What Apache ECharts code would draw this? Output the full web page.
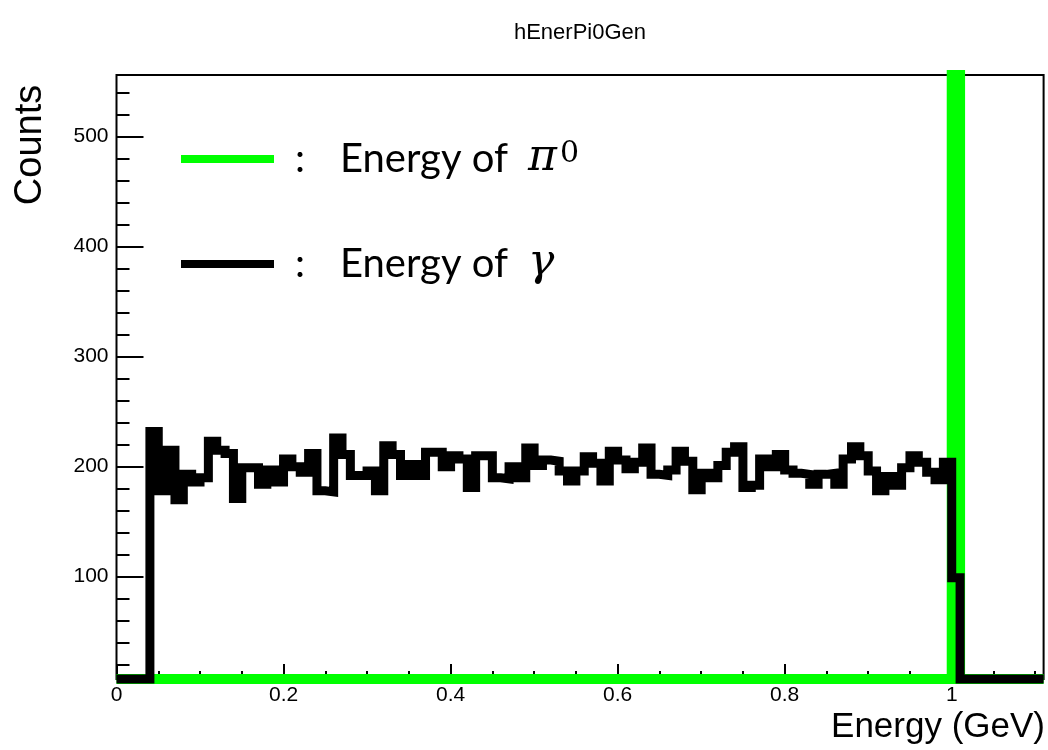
<!DOCTYPE html>
<html>
<head>
<meta charset="utf-8">
<script src="https://cdn.jsdelivr.net/npm/echarts@6/dist/echarts.min.js"></script>
<style>
  html, body { margin: 0; padding: 0; background: #fff; }
  #chart { width: 1048px; height: 750px; }
</style>
</head>
<body>
<div id="chart"></div>
<script>
// ---------------- data ----------------
const TITLE = 'hEnerPi0Gen';
const X_TITLE = 'Energy (GeV)';
const Y_TITLE = 'Counts';
const PI0_NAME = 'Energy of π0';
const GAMMA_NAME = 'Energy of γ';

const BIN_WIDTH = 0.01;           // GeV per bin
const X_MIN = 0, X_MAX = 1.11;
const Y_MIN = 7, Y_MAX = 556;

// photon energy histogram, bins [0.00,0.01) ... [1.10,1.11)
const gammaCounts = [
  0, 0, 0, 0,
  232, 178, 215, 170, 193, 186,                      // 0.04 - 0.09
  190, 223, 215, 212, 171, 199, 199, 184, 197, 186,  // 0.10 - 0.19
  207, 200, 195, 212, 178, 177, 226, 211, 192, 192,  // 0.20 - 0.29
  196, 178, 219, 211, 192, 202, 192, 213, 213, 200,  // 0.30 - 0.39
  210, 207, 181, 210, 210, 190, 189, 200, 190, 217,  // 0.40 - 0.49
  201, 206, 205, 196, 187, 196, 209, 203, 187, 214,  // 0.50 - 0.59
  206, 198, 204, 217, 193, 192, 197, 214, 205, 179,  // 0.60 - 0.69
  194, 190, 201, 213, 218, 181, 183, 207, 200, 211,  // 0.70 - 0.79
  197, 194, 193, 184, 193, 194, 184, 207, 218, 210,  // 0.80 - 0.89
  196, 178, 191, 183, 199, 210, 204, 195, 188, 204,  // 0.90 - 0.99
  99,                                                // 1.00
  0, 0, 0, 0, 0, 0, 0, 0, 0, 0                       // 1.01 - 1.10
];

// pi0 energy histogram: everything in the 1.00 bin (off scale), zero elsewhere
const pi0Counts = [
  0, 0, 0, 0, 0, 0, 0, 0, 0, 0,
  0, 0, 0, 0, 0, 0, 0, 0, 0, 0,
  0, 0, 0, 0, 0, 0, 0, 0, 0, 0,
  0, 0, 0, 0, 0, 0, 0, 0, 0, 0,
  0, 0, 0, 0, 0, 0, 0, 0, 0, 0,
  0, 0, 0, 0, 0, 0, 0, 0, 0, 0,
  0, 0, 0, 0, 0, 0, 0, 0, 0, 0,
  0, 0, 0, 0, 0, 0, 0, 0, 0, 0,
  0, 0, 0, 0, 0, 0, 0, 0, 0, 0,
  0, 0, 0, 0, 0, 0, 0, 0, 0, 0,
  10000,
  0, 0, 0, 0, 0, 0, 0, 0, 0, 0
];

const X_MAJOR_TICKS = [0, 0.2, 0.4, 0.6, 0.8, 1.0];
const X_MINOR_TICKS = [0.05, 0.1, 0.15, 0.25, 0.3, 0.35, 0.45, 0.5, 0.55, 0.65, 0.7, 0.75, 0.85, 0.9, 0.95, 1.05, 1.1];
const Y_MAJOR_TICKS = [100, 200, 300, 400, 500];
const Y_MINOR_TICKS = [20, 40, 60, 80, 120, 140, 160, 180, 220, 240, 260, 280, 320, 340, 360, 380, 420, 440, 460, 480, 520, 540];

// ---------------- chart ----------------
// ROOT draws bins outside the visible range at the frame edge
function clampY(v) { return Math.min(Math.max(v, Y_MIN), Y_MAX); }
function toSteps(counts) {
  const pts = counts.map((c, i) => [i * BIN_WIDTH, clampY(c)]);
  pts.push([counts.length * BIN_WIDTH, clampY(counts[counts.length - 1])]);
  return pts;
}

const AXIS_FONT = 'Liberation Sans, Arial, Helvetica, sans-serif';
const LEG_FONT = 'Lato, "Open Sans", sans-serif';
const MATH_FONT = '"DejaVu Serif", "Liberation Serif", serif';

const chart = echarts.init(document.getElementById('chart'), null, { renderer: 'canvas' });

const commonX = { type: 'value', min: X_MIN, max: X_MAX, splitLine: { show: false }, axisLine: { show: false } };
const commonY = { type: 'value', min: Y_MIN, max: Y_MAX, splitLine: { show: false }, axisLine: { show: false } };

const option = {
  animation: false,
  backgroundColor: '#ffffff',
  title: {
    text: TITLE, left: 575, top: 17, textAlign: 'center',
    textStyle: { fontFamily: AXIS_FONT, fontSize: 22, fontWeight: 'normal', color: '#000' }
  },
  grid: {
    left: 116.5, right: 4.4, top: 75, bottom: 71,
    show: true, borderColor: '#000', borderWidth: 2, backgroundColor: 'transparent',
    containLabel: false
  },
  xAxis: [
    Object.assign({}, commonX, {
      axisTick: { show: true, inside: true, length: 15, customValues: X_MAJOR_TICKS, lineStyle: { color: '#000', width: 2 } },
      axisLabel: {
        show: true, customValues: X_MAJOR_TICKS, margin: 6, color: '#000',
        fontFamily: AXIS_FONT, fontSize: 21,
        formatter: v => String(+Number(v).toFixed(2))
      }
    }),
    Object.assign({}, commonX, {
      position: 'bottom',
      axisTick: { show: true, inside: true, length: 8, customValues: X_MINOR_TICKS, lineStyle: { color: '#000', width: 2 } },
      axisLabel: { show: false }
    })
  ],
  yAxis: [
    Object.assign({}, commonY, {
      axisTick: { show: true, inside: true, length: 27, customValues: Y_MAJOR_TICKS, lineStyle: { color: '#000', width: 2 } },
      axisLabel: {
        show: true, customValues: Y_MAJOR_TICKS, margin: 8, color: '#000',
        fontFamily: AXIS_FONT, fontSize: 21
      }
    }),
    Object.assign({}, commonY, {
      position: 'left',
      axisTick: { show: true, inside: true, length: 13, customValues: Y_MINOR_TICKS, lineStyle: { color: '#000', width: 2 } },
      axisLabel: { show: false }
    })
  ],
  legend: {
    orient: 'vertical', left: 181, top: 137, padding: 0, itemWidth: 93, itemHeight: 8, itemGap: 53,
    icon: 'rect', selectedMode: false,
    data: [{ name: PI0_NAME }, { name: GAMMA_NAME }],
    formatter: name => name === PI0_NAME
      ? '{sp| }{c|:}{t|Energy of}{sp2| }{m|π}{s|0}'
      : '{sp| }{c|:}{t|Energy of}{sp2| }{m|γ}',
    textStyle: {
      color: '#000', fontFamily: LEG_FONT, fontSize: 40, lineHeight: 40,
      rich: {
        sp: { width: 16, fontSize: 40, lineHeight: 40 },
        c: { width: 45, fontSize: 40, fontFamily: LEG_FONT, lineHeight: 40 },
        t: { fontSize: 40, fontFamily: LEG_FONT, lineHeight: 40 },
        sp2: { width: 20, fontSize: 40, lineHeight: 40 },
        m: { fontSize: 44, fontFamily: MATH_FONT, fontStyle: 'italic', lineHeight: 40 },
        s: { fontSize: 30, fontFamily: MATH_FONT, verticalAlign: 'top', lineHeight: 40, padding: [0, 0, 20, 3] }
      }
    }
  },
  graphic: [
    {
      type: 'text', x: 31, y: 145, rotation: Math.PI / 2,
      style: { text: Y_TITLE, font: '38px ' + AXIS_FONT, fill: '#000', textAlign: 'center', textVerticalAlign: 'middle' }
    },
    {
      type: 'text', x: 1045, y: 727,
      style: { text: X_TITLE, font: '35px ' + AXIS_FONT, fill: '#000', textAlign: 'right', textVerticalAlign: 'middle' }
    }
  ],
  series: [
    {
      name: PI0_NAME, type: 'line', step: 'end', data: toSteps(pi0Counts),
      xAxisIndex: 0, yAxisIndex: 0, showSymbol: false, symbol: 'none', clip: false, silent: true,
      color: '#00ff00',
      lineStyle: { color: '#00ff00', width: 10, join: 'miter' }
    },
    {
      name: GAMMA_NAME, type: 'line', step: 'end', data: toSteps(gammaCounts),
      xAxisIndex: 0, yAxisIndex: 0, showSymbol: false, symbol: 'none', clip: false, silent: true,
      color: '#000000',
      lineStyle: { color: '#000000', width: 9, join: 'miter' }
    }
  ]
};

chart.setOption(option);
</script>
</body>
</html>
